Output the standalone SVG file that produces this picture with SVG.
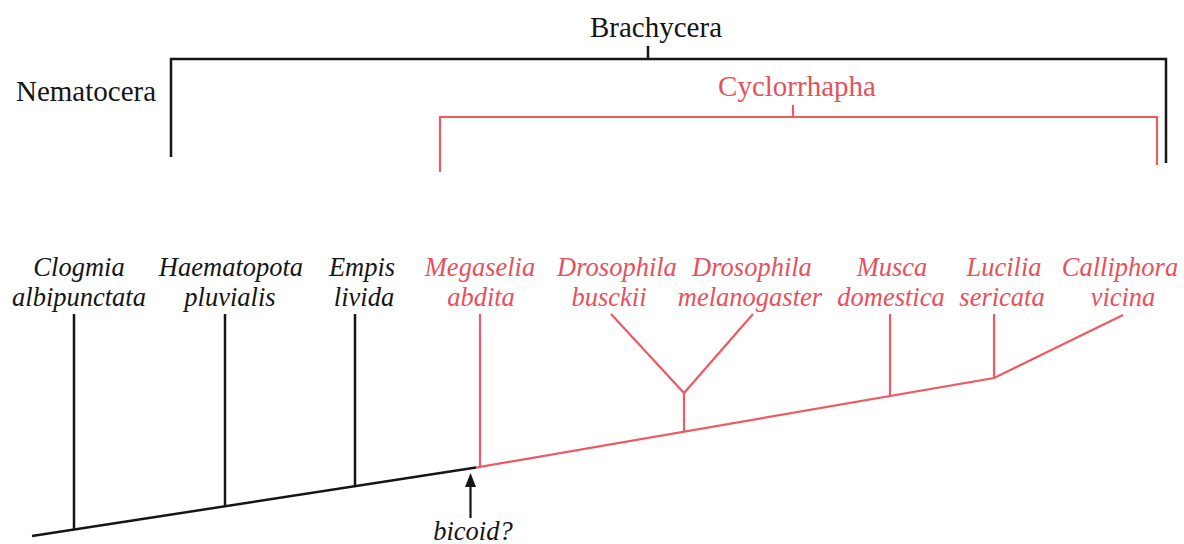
<svg xmlns="http://www.w3.org/2000/svg" width="1184" height="544" viewBox="0 0 1184 544">
<style>
.lbl{font-family:"Liberation Serif","Times New Roman",serif;font-size:29px;text-anchor:middle}
.sp{font-family:"Liberation Serif","Times New Roman",serif;font-size:26.5px;font-style:italic;text-anchor:middle}
.blk{fill:#151515}
.red{fill:#e8505b}
.lb{stroke:#151515;stroke-width:2.5;fill:none}
.lr{stroke:#ee5a63;stroke-width:2.2;fill:none}
</style>
<rect width="1184" height="544" fill="#fff"/>
<g id="connectors">
<path class="lb" d="M171,157 V59 H1166 V163"/>
<path class="lb" d="M648,46 V59"/>
<path class="lr" d="M440,172 V117 H1157 V165"/>
<path class="lr" d="M793,105 V117"/>
<path class="lb" d="M32,536 L476,467.6"/>
<path class="lb" d="M74,314 V529.5"/>
<path class="lb" d="M225,314 V506.3"/>
<path class="lb" d="M355,314 V486.3"/>
<path class="lr" d="M476,467.6 L994,378 L1123,315"/>
<path class="lr" d="M480,314 V467"/>
<path class="lr" d="M611,314 L684,393 L753,314 M684,393 V431.6"/>
<path class="lr" d="M890,314 V396"/>
<path class="lr" d="M994,314 V378"/>
<line x1="470.5" y1="518" x2="470.5" y2="485" stroke="#151515" stroke-width="2.2"/>
<path d="M465,487 L470.5,473 L476,487 Z" fill="#151515"/>
</g>
<g id="nematocera"><text class="lbl blk" x="86" y="101">Nematocera</text></g>
<g id="brachycera"><text class="lbl blk" x="656" y="37">Brachycera</text></g>
<g id="cyclorrhapha"><text class="lbl red" x="797" y="96">Cyclorrhapha</text></g>
<g id="clogmia"><text class="sp blk" x="79" y="276">Clogmia</text><text class="sp blk" x="79" y="306">albipunctata</text></g>
<g id="haematopota"><text class="sp blk" x="231" y="276">Haematopota</text><text class="sp blk" x="230" y="306">pluvialis</text></g>
<g id="empis"><text class="sp blk" x="362" y="276">Empis</text><text class="sp blk" x="364" y="306">livida</text></g>
<g id="megaselia"><text class="sp red" x="480" y="276">Megaselia</text><text class="sp red" x="481" y="306">abdita</text></g>
<g id="dbusckii"><text class="sp red" x="617" y="276">Drosophila</text><text class="sp red" x="609" y="306">busckii</text></g>
<g id="dmelanogaster"><text class="sp red" x="752" y="276">Drosophila</text><text class="sp red" x="750" y="306">melanogaster</text></g>
<g id="musca"><text class="sp red" x="892" y="276">Musca</text><text class="sp red" x="891" y="306">domestica</text></g>
<g id="lucilia"><text class="sp red" x="1004" y="276">Lucilia</text><text class="sp red" x="1002" y="306">sericata</text></g>
<g id="calliphora"><text class="sp red" x="1120" y="276">Calliphora</text><text class="sp red" x="1123" y="306">vicina</text></g>
<g id="bicoid"><text class="sp blk" x="473" y="540">bicoid?</text></g>
</svg>
